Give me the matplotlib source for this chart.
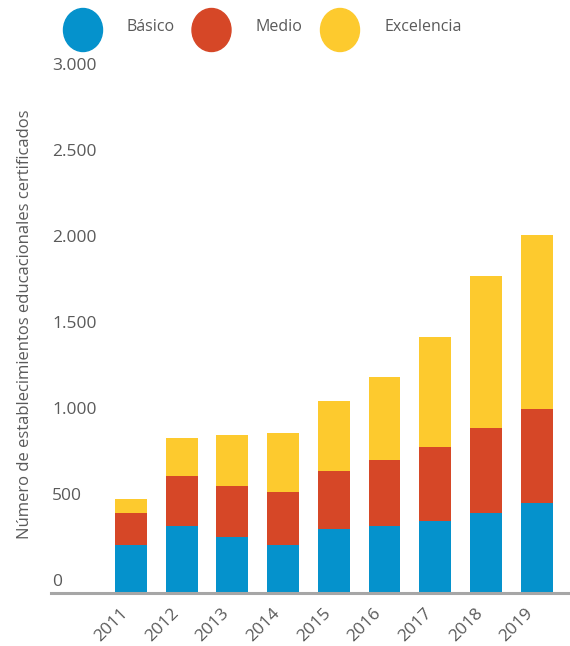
import matplotlib
matplotlib.use('Agg')
import matplotlib.pyplot as plt
from matplotlib.patches import Ellipse
from matplotlib.transforms import offset_copy
import numpy as np

plt.rcParams['font.family'] = ['Open Sans', 'DejaVu Sans']

years = ['2011', '2012', '2013', '2014', '2015', '2016', '2017', '2018', '2019']
basico = [279, 391, 326, 279, 372, 391, 419, 465, 523]
medio = [186, 289, 296, 308, 337, 382, 430, 494, 547]
excelencia = [82, 221, 296, 343, 408, 482, 639, 884, 1012]

names = ['Básico', 'Medio', 'Excelencia']
colors = ['#0592cc', '#d64727', '#fdca2e']
yticks = [0, 500, 1000, 1500, 2000, 2500, 3000]

W, H = 570, 646
fig = plt.figure(figsize=(W / 100, H / 100), dpi=100)
ax = fig.add_axes([51 / W, 53 / H, 519 / W, 527 / H])

x = np.arange(len(years))
b = np.array(basico)
m = np.array(medio)
e = np.array(excelencia)
ax.bar(x, b, 0.63, color=colors[0])
ax.bar(x, m, 0.63, bottom=b, color=colors[1])
ax.bar(x, e, 0.63, bottom=b + m, color=colors[2])

ax.set_xlim(-1.58, 8.66)
ax.set_ylim(0, 3064)
for s in ['top', 'right', 'left']:
    ax.spines[s].set_visible(False)
ax.spines['bottom'].set_color('#a6a6a6')
ax.spines['bottom'].set_linewidth(2.2)
ax.set_yticks([])
ax.set_xticks(x, years, rotation=45, ha='right')
ax.tick_params(axis='x', length=0, pad=9, labelsize=12.5, labelcolor='#5a5a5a')

# etiquetas del eje y, un poco sobre su valor
tr = offset_copy(ax.get_yaxis_transform(), fig=fig, y=11, units='dots')
for v in yticks:
    ax.text(0.002, v, f"{v:,}".replace(',', '.'), transform=tr,
            ha='left', va='center', fontsize=12.5, color='#5a5a5a')

fig.text(25 / W, 1 - 324 / H, 'Número de establecimientos educacionales certificados',
         rotation=90, ha='center', va='center', fontsize=12, color='#5a5a5a')

# leyenda de circulos arriba
for i, (name, c) in enumerate(zip(names, colors)):
    cx = 83 + 128.5 * i
    fig.add_artist(Ellipse((cx / W, 1 - 30 / H), 39 / W, 43 / H,
                           transform=fig.transFigure, color=c))
    fig.text((cx + 44) / W, 1 - 27 / H, name, ha='left', va='center',
             fontsize=11.5, color='#5a5a5a')

fig.savefig('out.png', dpi=100)
